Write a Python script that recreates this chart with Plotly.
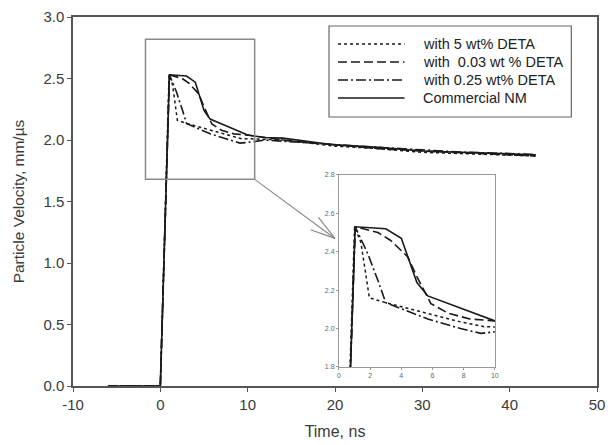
import plotly.graph_objects as go

# Time (ns) and particle velocity (mm/us)
t_5wt = [-6, 0, 1.0, 1.4, 1.65, 1.95, 3.0, 5.7, 7.8, 9.3, 10, 14, 20, 25, 30, 35, 40, 43]
v_5wt = [0, 0, 2.53, 2.45, 2.32, 2.16, 2.135, 2.08, 2.035, 2.01, 2.01, 2.0, 1.95, 1.93, 1.90, 1.89, 1.88, 1.87]

t_003wt = [-6, 0, 1.04, 2.5, 3.3, 4.4, 5.0, 5.9, 7.0, 8.4, 10, 14, 20, 25, 30, 35, 40, 43]
v_003wt = [0, 0, 2.53, 2.50, 2.46, 2.375, 2.27, 2.13, 2.08, 2.05, 2.04, 2.0, 1.96, 1.93, 1.91, 1.895, 1.88, 1.87]

t_025wt = [-6, 0, 1.04, 1.85, 2.5, 3.0, 5.7, 7.8, 9.1, 10, 12, 14, 20, 25, 30, 35, 40, 43]
v_025wt = [0, 0, 2.53, 2.39, 2.25, 2.135, 2.05, 2.0, 1.975, 1.98, 2.0, 1.99, 1.96, 1.94, 1.92, 1.90, 1.89, 1.88]

t_nm = [-6, 0, 1.04, 3.0, 4.0, 5.0, 5.7, 10, 12, 14, 20, 25, 30, 35, 40, 43]
v_nm = [0, 0, 2.53, 2.52, 2.47, 2.24, 2.17, 2.04, 2.02, 2.015, 1.96, 1.94, 1.91, 1.90, 1.89, 1.88]

x_ticks = [-10, 0, 10, 20, 30, 40, 50]
x_ticklabels = ["-10", "0", "10", "20", "30", "40", "50"]
y_ticks = [0, 0.5, 1.0, 1.5, 2.0, 2.5, 3.0]
inset_x_ticks = [0, 2, 4, 6, 8, 10]
inset_y_ticks = [1.8, 2.0, 2.2, 2.4, 2.6, 2.8]

SERIES = [
    ("with 5 wt% DETA", t_5wt, v_5wt, "dot", 1.5),
    ("with  0.03 wt % DETA", t_003wt, v_003wt, "9px,4px", 1.6),
    ("with 0.25 wt% DETA", t_025wt, v_025wt, "10px,3px,2px,3px", 1.6),
    ("Commercial NM", t_nm, v_nm, "solid", 1.6),
]

LINE_COLOR = "#1a1a1a"
TEXT_COLOR = "#3a3a3a"
FONT = "Liberation Sans, Arial, sans-serif"

fig = go.Figure()
for name, t, v, dash, w in SERIES:
    for xa, ya in (("x", "y"), ("x2", "y2")):
        fig.add_trace(go.Scatter(
            x=t, y=v, mode="lines", name=name, xaxis=xa, yaxis=ya,
            line=dict(color=LINE_COLOR, dash=dash, width=w),
            showlegend=False,
        ))

fig.update_layout(
    width=610, height=445,
    margin=dict(l=73, r=9, t=17, b=59),
    plot_bgcolor="white", paper_bgcolor="white",
    font=dict(family=FONT, color=TEXT_COLOR, size=15),
    xaxis=dict(
        range=[-10, 50], tickvals=x_ticks, ticktext=x_ticklabels, automargin=False,
        showline=True, linecolor="#555", linewidth=1.5, mirror=True,
        ticks="outside", ticklen=4, tickcolor="#555", tickwidth=1.2,
        showgrid=False, zeroline=False,
        title=dict(text="Time, ns", font=dict(size=16), standoff=14),
    ),
    yaxis=dict(
        range=[0, 3.0], tickvals=y_ticks, tickformat=".1f", automargin=False,
        showline=True, linecolor="#555", linewidth=1.5, mirror=True,
        ticks="outside", ticklen=4, tickcolor="#555", tickwidth=1.2,
        showgrid=False, zeroline=False,
        title=dict(text="Particle Velocity, mm/µs", font=dict(size=15.5), standoff=15),
    ),
    xaxis2=dict(
        domain=[0.5076, 0.805], anchor="y2", range=[0, 10],
        tickvals=inset_x_ticks,
        showline=True, linecolor="#999", linewidth=1, mirror=True,
        ticks="outside", ticklen=2, tickcolor="#999",
        showgrid=False, zeroline=False, tickfont=dict(size=7, color="#666"),
    ),
    yaxis2=dict(
        domain=[0.0515, 0.572], anchor="x2", range=[1.8, 2.8],
        tickvals=inset_y_ticks, tickformat=".1f",
        showline=True, linecolor="#999", linewidth=1, mirror=True,
        ticks="outside", ticklen=2, tickcolor="#999",
        showgrid=False, zeroline=False, tickfont=dict(size=7, color="#666"),
    ),
    showlegend=False,
)

# white background for the inset
fig.add_shape(type="rect", xref="x2 domain", yref="y2 domain", x0=0, x1=1, y0=0, y1=1,
              fillcolor="white", line=dict(width=0), layer="below")

# zoom rectangle on the main panel and connector arrow to the inset
fig.add_shape(type="rect", xref="x", yref="y", x0=-1.7, x1=10.8, y0=1.68, y1=2.82,
              line=dict(color="#8a8a8a", width=1.5))
fig.add_shape(type="line", xref="x", yref="y", x0=10.8, y0=1.68, x1=20.0, y1=1.20,
              line=dict(color="#8a8a8a", width=1.2))
fig.add_shape(type="line", xref="x", yref="y", x0=18.1, y0=1.37, x1=20.0, y1=1.20,
              line=dict(color="#8a8a8a", width=1.2))
fig.add_shape(type="line", xref="x", yref="y", x0=17.2, y0=1.27, x1=20.0, y1=1.20,
              line=dict(color="#8a8a8a", width=1.2))

# legend drawn by hand so the line samples have the original length
lx0, lx1, tx = 0.5057, 0.6326, 0.6648
rows_y = [0.9268, 0.878, 0.8293, 0.7805]
fig.add_shape(type="rect", xref="paper", yref="paper", x0=0.4886, x1=0.951, y0=0.729, y1=0.9756,
              line=dict(color="#666", width=1.2), fillcolor="white")
for (name, _, _, dash, w), yy in zip(SERIES, rows_y):
    fig.add_shape(type="line", xref="paper", yref="paper", x0=lx0, x1=lx1, y0=yy, y1=yy,
                  line=dict(color=LINE_COLOR, dash=dash, width=w))
    fig.add_annotation(x=tx, y=yy, xref="paper", yref="paper", text=name, showarrow=False,
                       xanchor="left", yanchor="middle", font=dict(size=14.5, color="#222"))

# drop the default page margin and scrollbars so the figure fills the window
fig.write_html(
    "out.html",
    config={"displayModeBar": False},
    post_script="document.body.style.margin='0';document.body.style.overflow='hidden';",
)
